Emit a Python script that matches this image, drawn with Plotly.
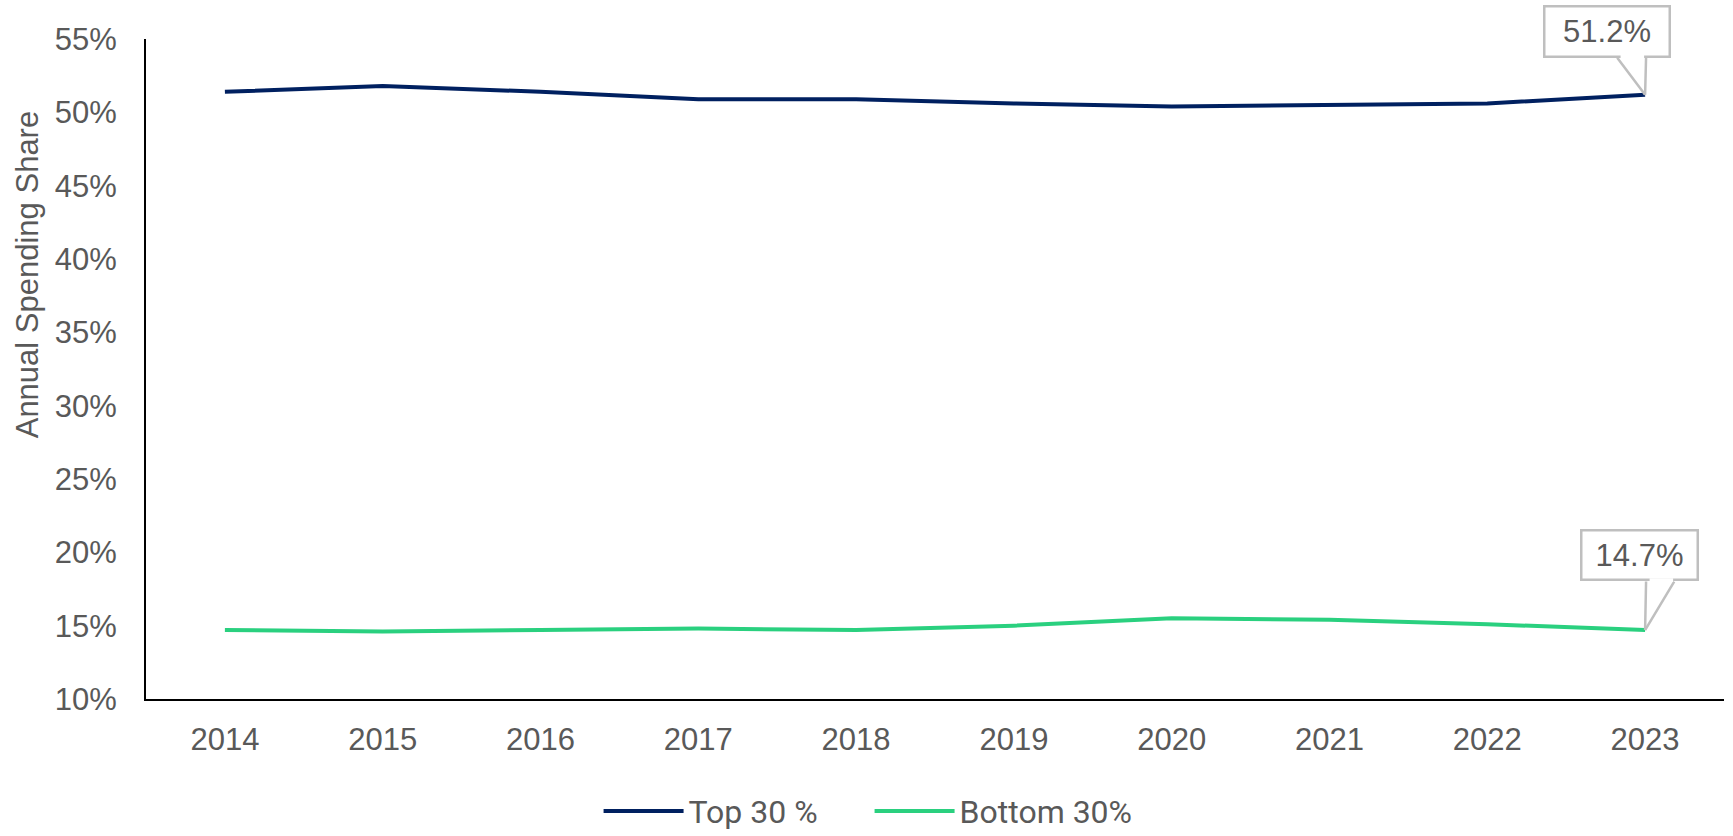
import plotly.graph_objects as go

years = ["2014", "2015", "2016", "2017", "2018", "2019", "2020", "2021", "2022", "2023"]
top30 = [51.4, 51.8, 51.4, 50.9, 50.9, 50.6, 50.4, 50.5, 50.6, 51.2]
bottom30 = [14.7, 14.6, 14.7, 14.8, 14.7, 15.0, 15.5, 15.4, 15.1, 14.7]
series_names = ["Top 30 %", "Bottom 30%"]
colors = ["#002060", "#2AD07F"]
y_ticks = [10, 15, 20, 25, 30, 35, 40, 45, 50, 55]
y_ticktext = [f"{v}%" for v in y_ticks]
y_title = "Annual Spending Share"

GREY = "#595959"
BORDER = "#BFBFBF"
fig = go.Figure()
for name, vals, c in zip(series_names, [top30, bottom30], colors):
    fig.add_trace(go.Scatter(x=years, y=vals, mode="lines", name=name,
                             line=dict(color=c, width=4)))

last = len(years) - 1
# (value, box centre offset px, box size px, wedge base points px, wedge opening)
callouts = [
    (top30[-1], (-38, -63.5), (126, 51), [(-29, -38.5), (1, -38.5)], (-1, 38.5, -25)),
    (bottom30[-1], (-5.5, -75), (117, 50), [(1, -50), (30, -50)], (28, 50, -25)),
]
for val, (cx, cy), (w, h), wedge, (ox, oy, olen) in callouts:
    for ex, ey in wedge:
        fig.add_annotation(x=last, y=val, text="", showarrow=True, arrowhead=0,
                           arrowcolor=BORDER, arrowwidth=2.5, ax=ex, ay=ey)
    fig.add_annotation(x=last, y=val, text=f"{val:.1f}%", showarrow=False,
                       xshift=cx, yshift=-cy, width=w - 3, height=h - 3, valign="middle",
                       bordercolor=BORDER, borderwidth=2.5, borderpad=0, bgcolor="white",
                       font=dict(size=31, color=GREY))
    # open the wedge base in the box border
    fig.add_annotation(x=last, y=val, text="", showarrow=True, arrowhead=0,
                       arrowcolor="white", arrowwidth=3.5, xshift=ox, yshift=oy,
                       ax=olen, ay=0)

fig.add_annotation(xref="paper", yref="paper", x=-0.0754, y=0.642, text=y_title,
                   textangle=-90, showarrow=False, xanchor="center", yanchor="middle",
                   font=dict(size=31, color=GREY))

fig.update_layout(
    width=1733, height=836,
    margin=dict(l=146, r=9, t=39, b=137, autoexpand=False),
    plot_bgcolor="white", paper_bgcolor="white",
    font=dict(family="Liberation Sans, Arial", color=GREY, size=31),
    showlegend=True,
    legend=dict(orientation="h", x=0.2868, xanchor="left",
                y=-0.170, yanchor="middle", itemwidth=80,
                entrywidth=176, entrywidthmode="pixels",
                font=dict(family="Roboto", size=32, color=GREY),
                traceorder="normal"),
    xaxis=dict(type="category", range=[-0.5, 9.5], showline=True, linecolor="black",
               linewidth=2, showgrid=False, ticks="outside", ticklen=12,
               tickcolor="rgba(0,0,0,0)", tickangle=0,
               tickfont=dict(size=31, color=GREY)),
    yaxis=dict(range=[10, 55], tickmode="array", tickvals=y_ticks, ticktext=y_ticktext,
               showline=True, linecolor="black", linewidth=2, showgrid=False,
               zeroline=False, ticks="outside", ticklen=21, tickcolor="rgba(0,0,0,0)",
               tickfont=dict(size=31, color=GREY)),
)
post = "document.body.style.margin = '0';"
fig.write_html("out.html", post_script=post, config={"displayModeBar": False})
